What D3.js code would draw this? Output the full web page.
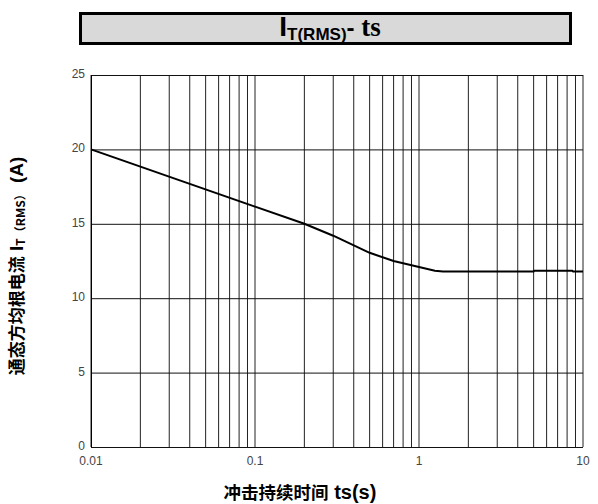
<!DOCTYPE html>
<html><head><meta charset="utf-8">
<script src="https://cdn.jsdelivr.net/npm/d3@7"></script>
<style>body{margin:0;background:#fff}</style>
</head><body>
<svg id="c" width="598" height="504"></svg>
<script>
const durations = [0.01, 0.2, 0.3, 0.5, 0.7, 1.0, 1.25, 1.4, 5.0, 5.05, 8.6, 8.7, 10];
const currents  = [20, 15, 14.2, 13.05, 12.5, 12.1, 11.85, 11.8, 11.8, 11.85, 11.85, 11.8, 11.8];
const yTicks = [0, 5, 10, 15, 20, 25];
const xLabelTicks = [0.01, 0.1, 1, 10];
const xLabels = ["0.01", "0.1", "1", "10"];

const svg = d3.select("#c");
const L = 91, R = 583, T = 75, B = 447;
const x = d3.scaleLog().domain([0.01, 10]).range([L, R]);
const y = d3.scaleLinear().domain([0, 25]).range([B, T]);
const SANS = "'Liberation Sans', Arial, sans-serif";
const SERIF = "'Liberation Serif', 'DejaVu Serif', serif";
const CJK = "'Noto Sans CJK SC', sans-serif";

// title box
svg.append("rect").attr("x", 80.5).attr("y", 13.5).attr("width", 490).attr("height", 30)
  .attr("fill", "#d9d9d9").attr("stroke", "#000").attr("stroke-width", 3);
const t = svg.append("text").attr("x", 330).attr("y", 36).attr("text-anchor", "middle")
  .attr("font-weight", "bold").attr("fill", "#000");
t.append("tspan").attr("font-family", SANS).attr("font-size", 28).text("I");
t.append("tspan").attr("font-family", SANS).attr("font-size", 17).attr("dy", 4).text("T(RMS)");
t.append("tspan").attr("font-family", SANS).attr("font-size", 24).attr("dy", -4).text("- ");
t.append("tspan").attr("font-family", SERIF).attr("font-size", 27).text("ts");

// grid
const minor = [];
for (let d = 0.01; d < 10; d *= 10) for (let k = 1; k <= 9; k++) minor.push(+(d * k).toPrecision(3));
minor.push(10);
svg.append("g").selectAll("line").data(minor).join("line")
  .attr("x1", d => x(d)).attr("x2", d => x(d)).attr("y1", T).attr("y2", B)
  .attr("stroke", "#222").attr("stroke-width", 1);
svg.append("g").selectAll("line").data(yTicks).join("line")
  .attr("x1", L).attr("x2", R).attr("y1", d => y(d) + 0.5).attr("y2", d => y(d) + 0.5)
  .attr("stroke", "#111").attr("stroke-width", 1);
svg.append("line").attr("x1", L + 0.5).attr("x2", L + 0.5).attr("y1", T).attr("y2", B).attr("stroke", "#000");

// tick labels
svg.append("g").selectAll("text").data(yTicks).join("text")
  .attr("x", 85).attr("y", d => y(d) + 3).attr("text-anchor", "end")
  .attr("font-family", SANS).attr("font-size", 12).attr("fill", "#444")
  .text(d => d);
svg.append("g").selectAll("text").data(xLabelTicks).join("text")
  .attr("x", d => x(d)).attr("y", 465).attr("text-anchor", "middle")
  .attr("font-family", SANS).attr("font-size", 12).attr("fill", "#444")
  .text((d, i) => xLabels[i]);

// curve
const pts = durations.map((d, i) => [d, currents[i]]);
svg.append("path").datum(pts)
  .attr("d", d3.line().x(d => x(d[0])).y(d => y(d[1])))
  .attr("fill", "none").attr("stroke", "#000").attr("stroke-width", 2);

// axis titles
const xt = svg.append("text").attr("x", 300).attr("y", 499).attr("text-anchor", "middle")
  .attr("font-weight", "bold").attr("fill", "#000");
xt.append("tspan").attr("font-family", CJK).attr("font-size", 17.5).text("冲击持续时间");
xt.append("tspan").attr("font-family", SANS).attr("font-size", 20).text(" ts(s)");

const yt = svg.append("text").attr("transform", "translate(23,266) rotate(-90)")
  .attr("text-anchor", "middle").attr("font-weight", "bold").attr("fill", "#000");
yt.append("tspan").attr("font-family", CJK).attr("font-size", 17).text("通态方均根电流");
yt.append("tspan").attr("font-family", SANS).attr("font-size", 19).text(" I");
yt.append("tspan").attr("font-family", CJK).attr("font-size", 12).attr("dy", 2).text("T（RMS）");
yt.append("tspan").attr("font-family", SANS).attr("font-size", 19).attr("dy", -2).text(" (A)");
</script>
</body></html>
